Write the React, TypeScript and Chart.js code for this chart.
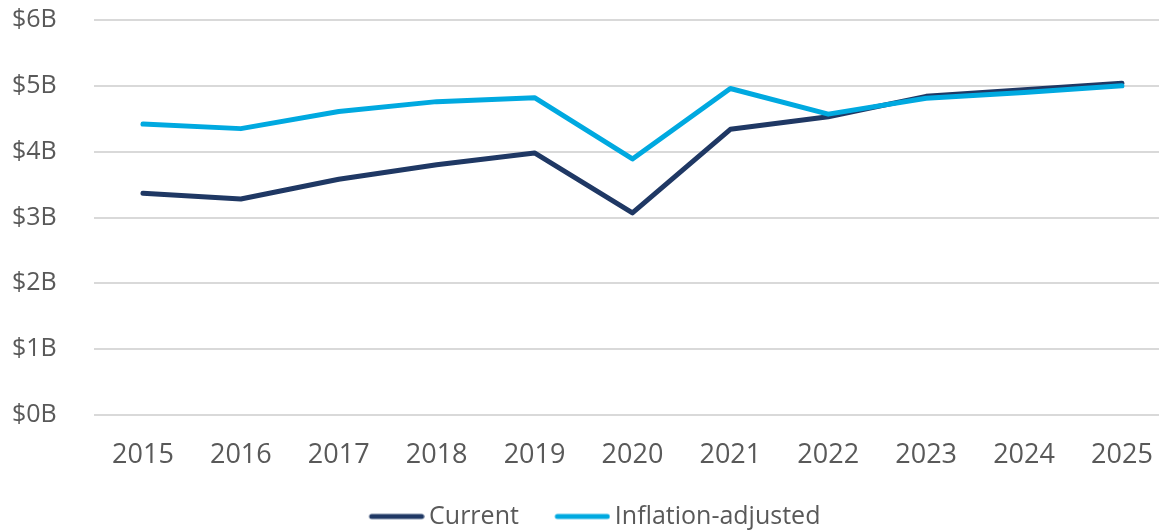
import React, { useEffect, useRef } from "react";
import { Chart, registerables } from "chart.js";

Chart.register(...registerables);

const years = ["2015", "2016", "2017", "2018", "2019", "2020", "2021", "2022", "2023", "2024", "2025"];
const currentValues = [3.37, 3.28, 3.58, 3.8, 3.98, 3.07, 4.34, 4.53, 4.84, 4.94, 5.04];
const inflationAdjustedValues = [4.42, 4.35, 4.61, 4.76, 4.82, 3.89, 4.96, 4.57, 4.81, 4.9, 5.0];
const seriesNames = ["Current", "Inflation-adjusted"];
const yMin = 0;
const yMax = 6;
const yStep = 1;

const DARK = "#1f3864";
const LIGHT = "#00a9e0";
const TEXT = "#595959";
const GRID = "#d9d9d9";
const FONT = "'Open Sans', 'Noto Sans', sans-serif";

// legend swatch: a round-capped line drawn on a small canvas
function makeSwatch(color: string): HTMLCanvasElement {
  const c = document.createElement("canvas");
  c.width = 64;
  c.height = 8;
  const ctx = c.getContext("2d");
  if (ctx) {
    ctx.strokeStyle = color;
    ctx.lineWidth = 5;
    ctx.lineCap = "round";
    ctx.beginPath();
    ctx.moveTo(11, 4);
    ctx.lineTo(61, 4);
    ctx.stroke();
  }
  return c;
}

export default function App() {
  const ref = useRef<HTMLCanvasElement | null>(null);

  useEffect(() => {
    if (!ref.current) return;
    const chart = new Chart(ref.current, {
      type: "line",
      data: {
        labels: years,
        datasets: [
          {
            label: seriesNames[0],
            data: currentValues,
            borderColor: DARK,
            backgroundColor: DARK,
            borderWidth: 5,
            pointRadius: 0,
            pointStyle: makeSwatch(DARK) as any,
            borderCapStyle: "round",
            borderJoinStyle: "round",
            tension: 0,
            order: 1,
          },
          {
            label: seriesNames[1],
            data: inflationAdjustedValues,
            borderColor: LIGHT,
            backgroundColor: LIGHT,
            borderWidth: 5,
            pointRadius: 0,
            pointStyle: makeSwatch(LIGHT) as any,
            borderCapStyle: "round",
            borderJoinStyle: "round",
            tension: 0,
            order: 0,
          },
        ],
      },
      options: {
        responsive: false,
        animation: false,
        layout: { padding: { top: 20, left: 12, right: 0, bottom: 0 } },
        plugins: {
          tooltip: { enabled: false },
          legend: {
            display: true,
            position: "bottom",
            labels: {
              usePointStyle: true,
              pointStyleWidth: 48,
              padding: 35.5,
              color: TEXT,
              font: { family: FONT, size: 25 },
              sort: (a: any, b: any) => a.datasetIndex - b.datasetIndex,
            },
          },
        },
        scales: {
          x: {
            offset: true,
            grid: { display: false, drawTicks: false },
            border: { display: false },
            ticks: {
              color: TEXT,
              font: { family: FONT, size: 27 },
              padding: 24,
              maxRotation: 0,
              autoSkip: false,
            },
            afterFit: (scale: any) => {
              scale.height = 53.5;
            },
          },
          y: {
            min: yMin,
            max: yMax,
            position: "left",
            grid: { color: GRID, lineWidth: 2, drawTicks: false },
            border: { display: false },
            ticks: {
              stepSize: yStep,
              color: TEXT,
              font: { family: FONT, size: 25 },
              padding: 0,
              crossAlign: "far",
              callback: (v: any) => `$${v}B`,
            },
            afterFit: (scale: any) => {
              scale.width = 82;
            },
          },
          yRight: {
            position: "right",
            display: true,
            grid: { display: false, drawTicks: false },
            border: { display: false },
            ticks: { display: false },
            afterFit: (scale: any) => {
              scale.width = 4;
            },
          },
        },
      },
    });
    return () => chart.destroy();
  }, []);

  return (
    <div
      style={{
        position: "absolute",
        left: 0,
        top: 0,
        width: 1159,
        height: 531,
        overflow: "hidden",
        background: "#ffffff",
      }}
    >
      <canvas ref={ref} width={1177} height={539} style={{ display: "block" }} />
    </div>
  );
}
